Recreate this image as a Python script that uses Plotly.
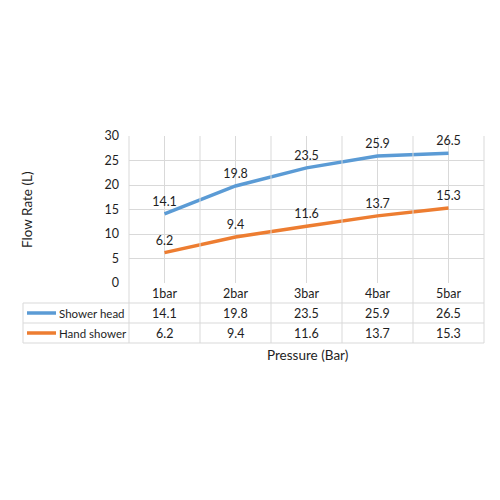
import plotly.graph_objects as go

# data
categories = ["1bar", "2bar", "3bar", "4bar", "5bar"]
shower_head = [14.1, 19.8, 23.5, 25.9, 26.5]
hand_shower = [6.2, 9.4, 11.6, 13.7, 15.3]
series_names = ["Shower head", "Hand shower"]
series_colors = ["#5B9BD5", "#ED7D31"]

OFF = 8                            # page body margin
W, H = 500 - OFF, 500 - OFF
L, R, T, B = 129, 484, 136, 283    # plot area, reference pixels
GRID = "#D9D9D9"
TXT = "#1E1E1E"
FONT = "Lato"
FS = 12.5


def px(x):
    return (x - L) / (R - L)


def py(y):
    return (B - y) / (B - T)


def note(x, y, text, xref="paper", xanchor="center", size=FS, angle=0):
    return dict(x=x, y=py(y), xref=xref, yref="paper", text=text, showarrow=False,
                xanchor=xanchor, yanchor="middle", textangle=angle,
                font=dict(size=size, color=TXT, family=FONT))


xs = list(range(len(categories)))
fig = go.Figure()

for name, vals, col in zip(series_names, [shower_head, hand_shower], series_colors):
    fig.add_trace(go.Scatter(
        x=xs, y=vals, mode="lines+markers+text", name=name,
        line=dict(color=col, width=3.5),
        marker=dict(size=6, opacity=0),
        text=[f"{v:.1f}" for v in vals], textposition="top center",
        textfont=dict(size=FS, color=TXT, family=FONT),
        showlegend=False, cliponaxis=False,
    ))

shapes = []
line = dict(color=GRID, width=1)
# vertical boundaries through plot and table
for i in range(len(categories) + 1):
    xv = px(L + i * (R - L) / len(categories))
    shapes.append(dict(type="line", xref="paper", yref="paper",
                       x0=xv, x1=xv, y0=1, y1=py(343), line=line))
# table horizontal lines
for yy in [303, 323, 343]:
    shapes.append(dict(type="line", xref="paper", yref="paper",
                       x0=px(23), x1=1, y0=py(yy), y1=py(yy), line=line))
shapes.append(dict(type="line", xref="paper", yref="paper",
                   x0=px(23), x1=px(23), y0=py(303), y1=py(343), line=line))

annotations = []
row_y = [313, 333]
for k, (name, vals, col) in enumerate(zip(series_names, [shower_head, hand_shower], series_colors)):
    shapes.append(dict(type="line", xref="paper", yref="paper",
                       x0=px(27), x1=px(56), y0=py(row_y[k]), y1=py(row_y[k]),
                       line=dict(color=col, width=3.5)))
    annotations.append(note(px(57), row_y[k], name, xanchor="left", size=11.5))
    for i, v in enumerate(vals):
        annotations.append(note(i, row_y[k], f"{v:.1f}", xref="x"))

for i, c in enumerate(categories):
    annotations.append(note(i, 293, c, xref="x"))

annotations.append(note(px(307), 355, "Pressure (Bar)", size=13.5))
annotations.append(note(px(27), 210, "Flow Rate (L)", size=13.5, angle=-90))

fig.update_layout(
    width=W, height=H,
    margin=dict(l=L - OFF, r=500 - R, t=T - OFF, b=500 - B),
    paper_bgcolor="white", plot_bgcolor="white",
    shapes=shapes, annotations=annotations,
    xaxis=dict(range=[-0.5, 4.5], tickvals=xs, showticklabels=False,
               showgrid=True, gridcolor=GRID, zeroline=False, showline=False),
    yaxis=dict(range=[0, 30], dtick=5, showgrid=True, gridcolor=GRID,
               zeroline=False, showline=False, ticks="", ticklabelstandoff=9,
               tickfont=dict(size=FS, color=TXT, family=FONT)),
)

fig.write_html("out.html")
